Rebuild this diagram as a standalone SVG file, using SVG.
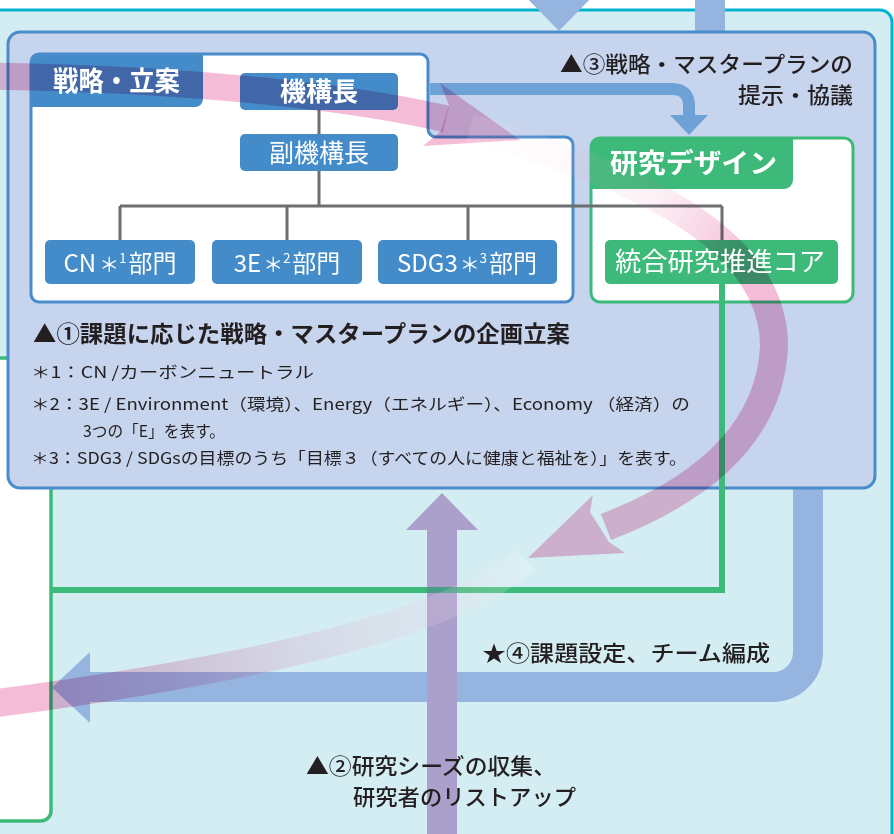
<svg xmlns="http://www.w3.org/2000/svg" width="894" height="834" viewBox="0 0 894 834">
<defs>
<style>
.jp{font-family:"Noto Sans CJK JP","Noto Sans",sans-serif;}
.w{fill:#ffffff}
.k{fill:#231f20}
.node{fill:#448bc9}
.gnode{fill:#3dba79}
.conn{stroke:#6d6e71;stroke-width:3;fill:none}
.mul{mix-blend-mode:multiply}
.bluebar{fill:none;stroke:#95b4df;stroke-width:30}
</style>
<linearGradient id="g1" gradientUnits="userSpaceOnUse" x1="480" y1="130" x2="770" y2="300">
<stop offset="0" stop-color="#f4bcd6" stop-opacity="0"/>
<stop offset="0.55" stop-color="#f4bcd6" stop-opacity="0.2"/>
<stop offset="0.9" stop-color="#f4bcd6" stop-opacity="1"/>
</linearGradient>
<linearGradient id="g1w" gradientUnits="userSpaceOnUse" x1="480" y1="130" x2="770" y2="300">
<stop offset="0" stop-color="#ffffff" stop-opacity="0.1"/>
<stop offset="0.5" stop-color="#ffffff" stop-opacity="0.07"/>
<stop offset="0.8" stop-color="#ffffff" stop-opacity="0"/>
</linearGradient>
<linearGradient id="g2" gradientUnits="userSpaceOnUse" x1="530" y1="560" x2="60" y2="700">
<stop offset="0" stop-color="#f4bcd6" stop-opacity="0"/>
<stop offset="0.5" stop-color="#f4bcd6" stop-opacity="0.35"/>
<stop offset="1" stop-color="#f4bcd6" stop-opacity="1"/>
</linearGradient>
<linearGradient id="g2w" gradientUnits="userSpaceOnUse" x1="530" y1="560" x2="60" y2="700">
<stop offset="0" stop-color="#ffffff" stop-opacity="0.2"/>
<stop offset="0.45" stop-color="#ffffff" stop-opacity="0.14"/>
<stop offset="0.8" stop-color="#ffffff" stop-opacity="0"/>
</linearGradient>
</defs>

<rect x="0" y="0" width="894" height="834" fill="#ffffff"/>
<rect id="background" x="-20" y="10" width="912" height="850" rx="12" fill="#d4edf3" stroke="#00b4cf" stroke-width="3"/>

<g id="connectors">
  <polygon points="524,-5 594,-5 559,31" fill="#95b4df"/>
  <rect x="695" y="-5" width="30" height="40" fill="#95b4df"/>
  <path class="bluebar" d="M808 480 V652 A35 35 0 0 1 773 687 H88"/>
  <polygon points="90,652 90,723 52,687.5" fill="#95b4df"/>
</g>

<g id="left-box">
  <rect x="-20" y="358" width="71" height="463" rx="10" fill="#ffffff" stroke="#3dba79" stroke-width="3.5"/>
</g>

<g id="panel">
  <rect x="8" y="32" width="867" height="456" rx="12" fill="#c6d4ed" stroke="#4a8bcb" stroke-width="3"/>
</g>

<g id="senryaku">
  <path d="M39 54 H420 A8 8 0 0 1 428 62 V129 A8 8 0 0 0 436 137 H565 A8 8 0 0 1 573 145 V294 A8 8 0 0 1 565 302 H39 A8 8 0 0 1 31 294 V62 A8 8 0 0 1 39 54 Z" fill="#ffffff"/>
  <path d="M31 62 A8 8 0 0 1 39 54 H203 V99 A8 8 0 0 1 195 107 H31 Z" fill="#448bc9"/>
  <path d="M39 54 H420 A8 8 0 0 1 428 62 V129 A8 8 0 0 0 436 137 H565 A8 8 0 0 1 573 145 V294 A8 8 0 0 1 565 302 H39 A8 8 0 0 1 31 294 V62 A8 8 0 0 1 39 54 Z" fill="none" stroke="#4a8bcb" stroke-width="3"/>
</g>

<g id="design">
  <rect x="591" y="138" width="262" height="164" rx="9" fill="#ffffff"/>
  <path d="M591 147 A9 9 0 0 1 600 138 H793 V180 A9 9 0 0 1 784 189 H591 Z" fill="#3dba79"/>
  <rect x="591" y="138" width="262" height="164" rx="9" fill="none" stroke="#3dba79" stroke-width="3"/>
</g>

<g id="inner-arrow">
  <path d="M430 89 H672 Q689 89 689 106 V117" fill="none" stroke="#6ea2d6" stroke-width="12"/>
  <polygon points="670,115 708,115 689,135" fill="#6ea2d6"/>
</g>

<g id="org-lines">
  <path class="conn" d="M319 110 V134 M319 171 V206 M120 206 H722 M120 206 V240 M287 206 V240 M468 206 V240 M722 206 V240"/>
</g>

<g id="n-kikoucho"><rect class="node" x="240" y="73" width="158" height="37" rx="5"/></g>
<g id="n-fuku"><rect class="node" x="240" y="134" width="158" height="37" rx="5"/></g>
<g id="n-cn"><rect class="node" x="45" y="240" width="150" height="44" rx="5"/></g>
<g id="n-3e"><rect class="node" x="212" y="240" width="150" height="44" rx="5"/></g>
<g id="n-sdg3"><rect class="node" x="378" y="240" width="179" height="44" rx="5"/></g>
<g id="n-core"><rect class="gnode" x="605" y="240" width="233" height="44" rx="5"/></g>

<g id="purple-arrow">
  <rect x="427" y="529" width="30" height="310" fill="#aba0cc"/>
  <polygon points="406,530 478,530 442,493" fill="#aba0cc"/>
</g>

<g id="green-link">
  <path d="M722 284 V590 H51" fill="none" stroke="#3dba79" stroke-width="6"/>
  <rect x="427" y="587" width="30" height="6" fill="#4a9c86"/>
</g>

<g id="pink-arrows">
  <path class="mul" d="M-20 76 C150 78 330 92 446 119" fill="none" stroke="#f4bcd6" stroke-width="27"/>
  <polygon class="mul" points="449,105 440,83 520,140 423,146 441,131" fill="#f4bcd6"/>
  <path d="M470 128 C640 175 775 240 774 347 C770 425 715 485 606 527" fill="none" stroke="url(#g1w)" stroke-width="28"/>
  <path class="mul" d="M470 128 C640 175 775 240 774 347 C770 425 715 485 606 527" fill="none" stroke="url(#g1)" stroke-width="28"/>
  <polygon class="mul" points="590,512 593,495 528,558 625,553 609,542" fill="#f4bcd6"/>
  <path d="M525 560 C450 625 250 670 -10 704" fill="none" stroke="url(#g2w)" stroke-width="28"/>
  <path class="mul" d="M525 560 C450 625 250 670 -10 704" fill="none" stroke="url(#g2)" stroke-width="28"/>
</g>

<g id="labels" class="jp">
  <text class="w" x="53" y="91" font-size="27" font-weight="bold" textLength="127" lengthAdjust="spacingAndGlyphs">戦略・立案</text>
  <text class="w" x="610" y="173" font-size="27" font-weight="bold" textLength="167" lengthAdjust="spacingAndGlyphs">研究デザイン</text>
  <text class="w" x="319" y="101" font-size="26" font-weight="bold" text-anchor="middle">機構長</text>
  <text class="w" x="319" y="162" font-size="25" text-anchor="middle">副機構長</text>
  <text class="w" x="120" y="272" font-size="24" text-anchor="middle">CN<tspan font-size="20" dx="3">＊</tspan><tspan font-size="13" dy="-9">1</tspan><tspan dy="9" dx="2">部門</tspan></text>
  <text class="w" x="287" y="272" font-size="24" text-anchor="middle">3E<tspan font-size="20" dx="2">＊</tspan><tspan font-size="13" dy="-9">2</tspan><tspan dy="9" dx="2">部門</tspan></text>
  <text class="w" x="467" y="272" font-size="24" text-anchor="middle">SDG3<tspan font-size="20" dx="2">＊</tspan><tspan font-size="13" dy="-9">3</tspan><tspan dy="9" dx="2">部門</tspan></text>
  <text class="w" x="720" y="271" font-size="26" text-anchor="middle" textLength="210" lengthAdjust="spacingAndGlyphs">統合研究推進コア</text>

  <text class="k" x="853" y="72" font-size="22" font-weight="500" text-anchor="end" textLength="293" lengthAdjust="spacingAndGlyphs">▲③戦略・マスタープランの</text>
  <text class="k" x="853" y="103" font-size="22" font-weight="500" text-anchor="end" textLength="115" lengthAdjust="spacingAndGlyphs">提示・協議</text>

  <text class="k" x="33" y="342" font-size="23" font-weight="bold" textLength="537" lengthAdjust="spacingAndGlyphs">▲①課題に応じた戦略・マスタープランの企画立案</text>
  <text class="k" x="31" y="378" font-size="16" textLength="283" lengthAdjust="spacingAndGlyphs">＊1：CN /カーボンニュートラル</text>
  <text class="k" x="31" y="410" font-size="16" textLength="659" lengthAdjust="spacingAndGlyphs">＊2：3E / Environment（環境）、Energy（エネルギー）、Economy （経済）の</text>
  <text class="k" x="83" y="437" font-size="16" textLength="142" lengthAdjust="spacingAndGlyphs">3つの「E」を表す。</text>
  <text class="k" x="31" y="464" font-size="16" textLength="656" lengthAdjust="spacingAndGlyphs">＊3：SDG3 / SDGsの目標のうち「目標３（すべての人に健康と福祉を）」を表す。</text>

  <text class="k" x="482" y="661" font-size="22" font-weight="500" textLength="288" lengthAdjust="spacingAndGlyphs">★④課題設定、チーム編成</text>
  <text class="k" x="306" y="774" font-size="22" font-weight="500" textLength="250" lengthAdjust="spacingAndGlyphs">▲②研究シーズの収集、</text>
  <text class="k" x="353" y="805" font-size="22" font-weight="500" textLength="223" lengthAdjust="spacingAndGlyphs">研究者のリストアップ</text>
</g>
</svg>
